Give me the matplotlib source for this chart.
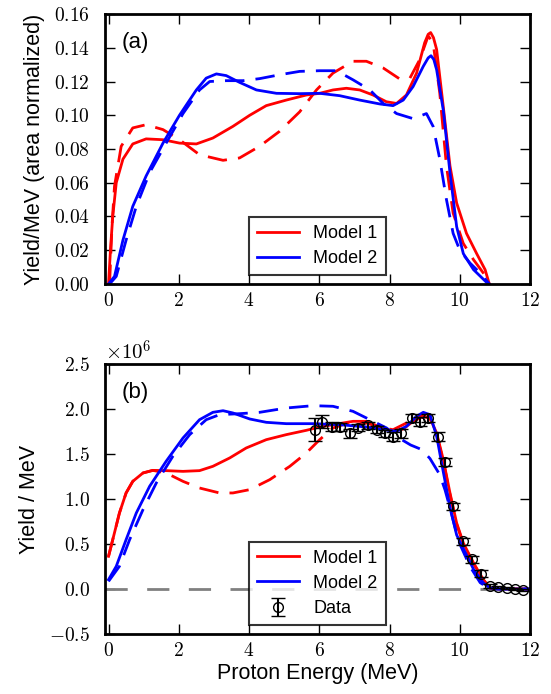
import numpy as np
import matplotlib
matplotlib.use("Agg")
import matplotlib.pyplot as plt
from matplotlib.ticker import FuncFormatter, MultipleLocator

plt.rcParams['font.family'] = ['Liberation Sans', 'DejaVu Sans']
plt.rcParams['mathtext.fontset'] = 'cm'

# ---- panel (a): area normalized spectra ----
e_m1a = [0.0, 0.06, 0.12, 0.22, 0.41, 0.69, 1.07, 1.55, 2.02, 2.5, 2.97, 3.54, 4.02, 4.49, 5.06,
         5.63, 6.01, 6.39, 6.77, 7.15, 7.53, 7.91, 8.2, 8.48, 8.77, 9.0, 9.1, 9.17, 9.25, 9.34,
         9.53, 9.72, 9.91, 10.19, 10.48, 10.72, 10.84]
y_m1a = [0.0, 0.022, 0.040, 0.060, 0.074, 0.083, 0.086, 0.0855, 0.0835, 0.083, 0.0865, 0.0934,
         0.100, 0.1057, 0.109, 0.112, 0.113, 0.115, 0.116, 0.115, 0.112, 0.108, 0.107, 0.112,
         0.125, 0.143, 0.148, 0.149, 0.146, 0.139, 0.105, 0.070, 0.048, 0.030, 0.018, 0.0085, 0.0]

e_m1a_d = [0.03, 0.1, 0.17, 0.36, 0.69, 1.07, 1.55, 2.02, 2.59, 3.26, 3.73, 4.30, 4.87, 5.44,
           5.92, 6.39, 6.96, 7.34, 7.82, 8.29, 8.58, 8.86, 9.1, 9.24, 9.43, 9.62, 9.81, 10.1,
           10.39, 10.67, 10.84]
y_m1a_d = [0.0, 0.035, 0.058, 0.0816, 0.0925, 0.0944, 0.0915, 0.0855, 0.0766, 0.0733, 0.0747,
           0.0816, 0.0905, 0.102, 0.115, 0.125, 0.132, 0.132, 0.128, 0.1215, 0.122, 0.133, 0.147,
           0.143, 0.113, 0.070, 0.042, 0.024, 0.0144, 0.0065, 0.0]

e_m2a = [0.0, 0.17, 0.41, 0.69, 1.07, 1.55, 2.02, 2.5, 2.78, 3.07, 3.35, 3.73, 4.21, 4.78, 5.44,
         6.01, 6.58, 7.15, 7.72, 8.1, 8.39, 8.67, 8.96, 9.1, 9.18, 9.26, 9.34, 9.53, 9.72, 9.91,
         10.1, 10.39, 10.76, 10.84]
y_m2a = [0.0, 0.0045, 0.026, 0.046, 0.064, 0.0835, 0.100, 0.115, 0.122, 0.1245, 0.1235, 0.1195,
         0.115, 0.113, 0.1128, 0.113, 0.1116, 0.109, 0.1067, 0.1057, 0.109, 0.117, 0.129, 0.134,
         0.1353, 0.133, 0.127, 0.103, 0.066, 0.034, 0.018, 0.0085, 0.001, 0.0]

e_m2a_d = [0.03, 0.22, 0.5, 0.79, 1.17, 1.64, 2.12, 2.59, 2.88, 3.35, 3.83, 4.3, 4.87, 5.44, 6.01,
           6.49, 6.96, 7.44, 7.82, 8.2, 8.67, 9.05, 9.24, 9.43, 9.62, 9.81, 10.0, 10.29, 10.58,
           10.84]
y_m2a_d = [0.0, 0.0045, 0.026, 0.046, 0.066, 0.0835, 0.101, 0.115, 0.120, 0.1205, 0.1205, 0.1217,
           0.124, 0.126, 0.1264, 0.1264, 0.121, 0.115, 0.107, 0.101, 0.098, 0.101, 0.0934, 0.074,
           0.050, 0.030, 0.020, 0.0124, 0.0065, 0.0]

# ---- panel (b): yield in units of 1e6 ----
e_m1b = [0.0, 0.12, 0.31, 0.5, 0.69, 0.98, 1.26, 1.64, 2.12, 2.59, 2.97, 3.45, 3.92, 4.49, 5.06,
         5.63, 6.01, 6.39, 6.96, 7.34, 7.72, 8.1, 8.39, 8.67, 8.96, 9.15, 9.34, 9.53, 9.72, 9.91,
         10.1, 10.39, 10.67, 10.86, 11.14, 12.0]
y_m1b = [0.363, 0.548, 0.844, 1.067, 1.196, 1.289, 1.318, 1.315, 1.307, 1.315, 1.363, 1.456,
         1.567, 1.659, 1.715, 1.763, 1.80, 1.826, 1.863, 1.863, 1.80, 1.752, 1.778, 1.863, 1.919,
         1.90, 1.733, 1.437, 1.067, 0.733, 0.511, 0.289, 0.104, 0.011, 0.0, 0.0]

e_m1b_d = [0.0, 0.12, 0.31, 0.5, 0.69, 0.98, 1.26, 1.64, 2.12, 2.59, 3.16, 3.54, 4.02, 4.59, 5.16,
           5.63, 6.01, 6.39, 6.96, 7.34, 7.82, 8.1, 8.48, 8.86, 9.15, 9.34, 9.53, 9.72, 9.91,
           10.1, 10.39, 10.67, 10.86, 11.14, 12.0]
y_m1b_d = [0.363, 0.548, 0.844, 1.067, 1.196, 1.289, 1.318, 1.289, 1.196, 1.122, 1.067, 1.067,
           1.104, 1.215, 1.363, 1.511, 1.659, 1.789, 1.863, 1.844, 1.789, 1.770, 1.844, 1.926,
           1.90, 1.715, 1.42, 1.05, 0.72, 0.50, 0.28, 0.10, 0.011, 0.0, 0.0]

e_m2b = [0.0, 0.22, 0.5, 0.79, 1.17, 1.64, 2.12, 2.59, 2.97, 3.26, 3.54, 4.02, 4.49, 5.06, 5.82,
         6.58, 7.34, 7.82, 8.2, 8.48, 8.77, 8.96, 9.15, 9.34, 9.53, 9.72, 9.91, 10.1, 10.39,
         10.67, 10.86, 11.14, 12.0]
y_m2b = [0.104, 0.252, 0.548, 0.844, 1.141, 1.419, 1.678, 1.881, 1.963, 1.981, 1.956, 1.889,
         1.852, 1.837, 1.837, 1.826, 1.80, 1.77, 1.752, 1.807, 1.919, 1.963, 1.937, 1.70, 1.30,
         0.91, 0.60, 0.45, 0.22, 0.067, 0.011, 0.0, 0.0]

e_m2b_d = [0.0, 0.31, 0.6, 0.98, 1.36, 1.83, 2.31, 2.78, 3.16, 3.73, 4.3, 5.06, 5.82, 6.39, 6.96,
           7.44, 7.91, 8.3, 8.6, 8.91, 9.15, 9.43, 9.58, 9.72, 9.86, 10.0, 10.29, 10.58, 10.86,
           11.14, 12.0]
y_m2b_d = [0.085, 0.252, 0.548, 0.881, 1.178, 1.474, 1.715, 1.881, 1.937, 1.948, 1.963, 2.011,
           2.037, 2.03, 1.974, 1.881, 1.79, 1.67, 1.60, 1.55, 1.45, 1.27, 1.10, 0.90, 0.69, 0.50,
           0.25, 0.07, 0.0, 0.0, 0.0]

e_data = [5.87, 6.09, 6.35, 6.58, 6.87, 7.11, 7.39, 7.63, 7.87, 8.10, 8.34, 8.63, 8.87, 9.10,
          9.39, 9.58, 9.81, 10.10, 10.34, 10.60, 10.86, 11.10, 11.34, 11.57, 11.81]
y_data = [1.77, 1.86, 1.80, 1.80, 1.73, 1.79, 1.82, 1.77, 1.73, 1.69, 1.73, 1.90, 1.86, 1.90,
          1.69, 1.41, 0.92, 0.53, 0.33, 0.17, 0.03, 0.02, 0.01, 0.00, -0.01]
err_data = [0.13, 0.07, 0.05, 0.04, 0.05, 0.04, 0.04, 0.04, 0.04, 0.05, 0.05, 0.04, 0.05, 0.04,
            0.05, 0.04, 0.04, 0.04, 0.04, 0.04, 0.02, 0.01, 0.01, 0.01, 0.01]

DASH = (7, 4)
LABEL_FS = 15.5
fig = plt.figure(figsize=(5.51, 6.94), dpi=100)
ax1 = fig.add_axes([0.1906, 0.5908, 0.7714, 0.389])
ax2 = fig.add_axes([0.1906, 0.0865, 0.7714, 0.389])

ax1.plot(e_m1a, y_m1a, color='#ff0000', lw=2, label='Model 1')
ax1.plot(e_m1a_d, y_m1a_d, color='#ff0000', lw=2, dashes=DASH)
ax1.plot(e_m2a, y_m2a, color='#0000ff', lw=2, label='Model 2')
ax1.plot(e_m2a_d, y_m2a_d, color='#0000ff', lw=2, dashes=DASH)
ax1.set_ylim(0, 0.16)
ax1.yaxis.set_major_locator(MultipleLocator(0.02))
ax1.yaxis.set_major_formatter(FuncFormatter(lambda v, p: r'$%.2f$' % v))
ax1.set_ylabel('Yield/MeV (area normalized)', fontsize=LABEL_FS, labelpad=6)
ax1.text(0.04, 0.935, '(a)', transform=ax1.transAxes, fontsize=16, va='top')

ax2.axhline(0, color='0.5', lw=2, dashes=(8, 7))
ax2.plot(e_m1b, y_m1b, color='#ff0000', lw=2, label='Model 1')
ax2.plot(e_m1b_d, y_m1b_d, color='#ff0000', lw=2, dashes=DASH)
ax2.plot(e_m2b, y_m2b, color='#0000ff', lw=2, label='Model 2')
ax2.plot(e_m2b_d, y_m2b_d, color='#0000ff', lw=2, dashes=DASH)
ax2.errorbar(e_data, y_data, yerr=err_data, fmt='o', mfc='none', mec='k', ms=7, mew=1,
             ecolor='k', elinewidth=1.5, capsize=5, capthick=1.5, label='Data')
ax2.set_ylim(-0.5, 2.5)
ax2.yaxis.set_major_locator(MultipleLocator(0.5))
ax2.yaxis.set_major_formatter(FuncFormatter(lambda v, p: r'$%.1f$' % v))
ax2.set_ylabel('Yield / MeV', fontsize=LABEL_FS, labelpad=6)
ax2.set_xlabel('Proton Energy (MeV)', fontsize=LABEL_FS, labelpad=2)
ax2.text(0.04, 0.935, '(b)', transform=ax2.transAxes, fontsize=16, va='top')
ax2.text(0.0, 1.0, r'$\times10^{6}$', transform=ax2.transAxes, fontsize=15, va='bottom')

for ax in (ax1, ax2):
    ax.set_xlim(-0.1, 12)
    ax.xaxis.set_major_locator(MultipleLocator(2))
    ax.xaxis.set_major_formatter(FuncFormatter(lambda v, p: r'$%d$' % round(v)))
    ax.tick_params(direction='in', top=True, right=True, length=7, width=1, labelsize=14)
    ax.tick_params(axis='x', pad=6)
    ax.tick_params(axis='y', pad=11)
    for s in ax.spines.values():
        s.set_linewidth(2)
    leg = ax.legend(loc='lower center', bbox_to_anchor=(0.5, 0.033), borderaxespad=0,
                    fontsize=13, fancybox=False, handlelength=2.3, borderpad=0.45,
                    labelspacing=0.45, numpoints=1)
    leg.get_frame().set_edgecolor('k')
    leg.get_frame().set_linewidth(1.5)

fig.savefig('out.png', dpi=100)
